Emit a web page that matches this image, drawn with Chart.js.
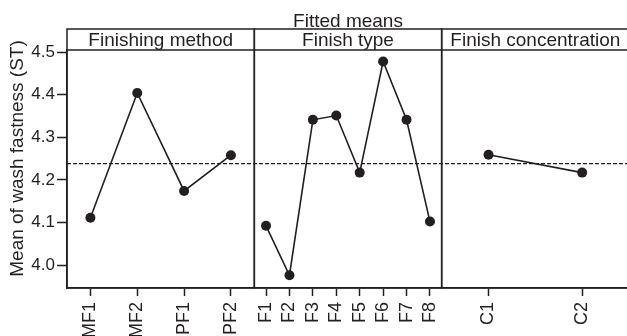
<!DOCTYPE html>
<html>
<head>
<meta charset="utf-8">
<script src="https://cdn.jsdelivr.net/npm/chart.js@4"></script>
<style>
  html, body { margin: 0; padding: 0; background: #fff; overflow: hidden; }
  canvas { display: block; }
</style>
</head>
<body>
<!-- canvas wider than the window: the right frame edge is cut off in the original -->
<canvas id="mainEffects" width="634" height="336"></canvas>
<script>
/* Main effects plot: fitted means of wash fastness per factor level. */

const methodLabels = ['MF1', 'MF2', 'PF1', 'PF2'];
const methodMeans  = [4.111, 4.404, 4.174, 4.258];

const typeLabels = ['F1', 'F2', 'F3', 'F4', 'F5', 'F6', 'F7', 'F8'];
const typeMeans  = [4.092, 3.976, 4.341, 4.351, 4.217, 4.478, 4.341, 4.102];

const concLabels = ['C1', 'C2'];
const concMeans  = [4.259, 4.217];

const panelTitles = ['Finishing method', 'Finish type', 'Finish concentration'];
const yTitle = 'Mean of wash fastness (ST)';
const grandMean = 4.238;
const yTicks = [4.0, 4.1, 4.2, 4.3, 4.4, 4.5];

const INK = '#231f20';
const FONT = "'Liberation Sans', Arial, sans-serif";
const HEADER_H = 21;

Chart.defaults.font.family = FONT;
Chart.defaults.color = INK;

const panelIds = ['x1', 'x2', 'x3'];

function xAxis(labels) {
  return {
    type: 'category',
    position: 'bottom',
    stack: 'panels',
    stackWeight: 1,
    labels,
    offset: true,
    // fixed band height, and no extra side padding for the rotated labels
    afterFit: s => { s.height = 48; s.paddingLeft = 0; s.paddingRight = 0; },
    grid: { drawOnChartArea: false, drawTicks: true, tickLength: 8, tickWidth: 1.5, tickColor: INK, offset: false },
    border: { display: true, color: INK, width: 1.5 },
    ticks: { autoSkip: false, minRotation: 90, maxRotation: 90, padding: 6, color: INK, font: { size: 18 } }
  };
}

function lineSet(data, axisId) {
  return {
    data, xAxisID: axisId, yAxisID: 'y',
    borderColor: INK, backgroundColor: INK, borderWidth: 1.6,
    pointRadius: 5, pointHoverRadius: 5, pointBorderWidth: 0, tension: 0
  };
}

// dashed grand-mean reference line
const refLine = {
  id: 'refLine',
  beforeDatasetsDraw(chart) {
    const { ctx, chartArea } = chart;
    const y = chart.scales.y.getPixelForValue(grandMean);
    ctx.save();
    ctx.strokeStyle = INK;
    ctx.lineWidth = 1.3;
    ctx.setLineDash([4, 2]);
    ctx.beginPath();
    ctx.moveTo(chartArea.left, y);
    ctx.lineTo(chartArea.right, y);
    ctx.stroke();
    ctx.restore();
  }
};

// panel frames, header strips, y title and overall title
const panelFrame = {
  id: 'panelFrame',
  afterDraw(chart) {
    const { ctx, chartArea } = chart;
    const top = chartArea.top - HEADER_H;
    ctx.save();
    ctx.strokeStyle = INK;
    ctx.lineWidth = 1.5;
    ctx.fillStyle = INK;
    ctx.textAlign = 'center';
    ctx.textBaseline = 'middle';
    ctx.font = '19px ' + FONT;
    panelIds.forEach((id, i) => {
      const s = chart.scales[id];
      ctx.strokeRect(s.left, top, s.right - s.left, chartArea.bottom - top);
      ctx.beginPath();
      ctx.moveTo(s.left, chartArea.top);
      ctx.lineTo(s.right, chartArea.top);
      ctx.stroke();
      ctx.fillText(panelTitles[i], (s.left + s.right) / 2, top + HEADER_H / 2 + 1);
    });

    // y title centred on the whole panel height (header included)
    ctx.save();
    ctx.translate(18, (top + chartArea.bottom) / 2);
    ctx.rotate(-Math.PI / 2);
    ctx.fillText(yTitle, 0, 0);
    ctx.restore();

    ctx.textBaseline = 'alphabetic';
    ctx.fillText('Fitted means', (chartArea.left + chartArea.right) / 2, top - 2);
    ctx.restore();
  }
};

new Chart(document.getElementById('mainEffects'), {
  type: 'line',
  data: {
    datasets: [
      lineSet(methodMeans, 'x1'),
      lineSet(typeMeans, 'x2'),
      lineSet(concMeans, 'x3')
    ]
  },
  options: {
    responsive: false,
    animation: false,
    devicePixelRatio: 1,
    layout: { padding: { top: 50, left: 0, right: 0, bottom: 0 } },
    plugins: { legend: { display: false }, tooltip: { enabled: false }, title: { display: false } },
    scales: {
      x1: xAxis(methodLabels),
      x2: xAxis(typeLabels),
      x3: xAxis(concLabels),
      y: {
        type: 'linear',
        position: 'left',
        min: 3.946,
        max: 4.505,
        afterFit: s => { s.width = 67; s.paddingTop = 0; s.paddingBottom = 0; },
        afterBuildTicks: s => { s.ticks = yTicks.map(v => ({ value: v })); },
        grid: { drawOnChartArea: false, drawTicks: true, tickLength: 10, tickWidth: 1.5, tickColor: INK },
        border: { display: true, color: INK, width: 1.5 },
        ticks: { padding: 2, color: INK, font: { size: 17 }, callback: v => Number(v).toFixed(1) },
        title: { display: false }
      }
    }
  },
  plugins: [refLine, panelFrame]
});
</script>
</body>
</html>
